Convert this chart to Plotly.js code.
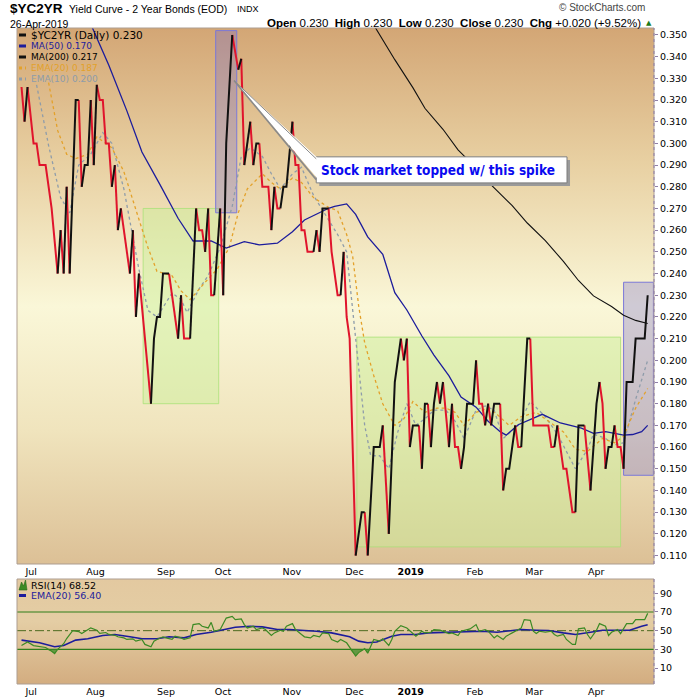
<!DOCTYPE html>
<html><head><meta charset="utf-8">
<script src="https://cdn.plot.ly/plotly-3.0.1.min.js"></script>
<style>
html,body{margin:0;padding:0;background:#fff;}
#wrap{position:relative;width:700px;height:700px;overflow:hidden;}
#bg1{position:absolute;left:17px;top:28px;width:637px;height:536px;background:linear-gradient(to bottom,#d3a675 0%,#e8d0a2 25%,#faf7d8 52%,#f0e4bd 75%,#dcc096 100%);}
#bg2{position:absolute;left:17px;top:579px;width:637px;height:105px;background:linear-gradient(to bottom,#e3c9a0 0%,#e4cda4 40%,#d3ad80 100%);}
#chart{position:absolute;left:0;top:0;width:700px;height:700px;}
</style></head>
<body><div id="wrap"><div id="bg1"></div><div id="bg2"></div><div id="chart"></div></div>
<script>
// ---------- data (x = trading-day index, 0 = late Jun 2018, 208 = 26-Apr-2019) ----------
const monthIdx = [3.2, 24.6, 48, 66.9, 89.8, 110.6, 129.3, 150.6, 170.3, 190.9];
const monthLabels = ['Jul','Aug','Sep','Oct','Nov','Dec','<b>2019</b>','Feb','Mar','Apr'];

const priceIdx = [0,1,2,4,5,6,8,9,10,12,13,14,15,16,18,19,20,21,22,23,24,25,26,27,28,29,30,31,32,33,36,37,38,39,41,43,44,45,46,47,49,52,53,54,56,58,59,60,61,62,63,64,66,67,68,70,72,73,74,76,77,78,79,80,82,83,84,85,86,87,88,90,91,92,93,94,95,97,98,99,100,102,103,105,106,107,108,109,111,113,114,115,117,119,120,122,124,126,127,128,129,130,132,133,134,135,136,137,138,139,140,142,143,144,145,146,147,148,150,151,152,153,154,155,156,157,159,160,161,162,164,165,166,168,169,170,175,176,177,178,180,181,183,184,185,187,189,191,192,193,194,195,196,197,198,199,200,201,203,204,207,208];
const priceVal = [0.326,0.310,0.326,0.300,0.300,0.290,0.290,0.280,0.270,0.240,0.260,0.240,0.280,0.240,0.320,0.320,0.280,0.290,0.290,0.320,0.290,0.327,0.320,0.320,0.300,0.300,0.280,0.290,0.260,0.270,0.240,0.260,0.220,0.240,0.210,0.180,0.210,0.220,0.220,0.240,0.240,0.210,0.230,0.210,0.210,0.270,0.260,0.260,0.250,0.270,0.230,0.230,0.270,0.230,0.300,0.350,0.334,0.339,0.290,0.310,0.290,0.300,0.300,0.280,0.280,0.260,0.280,0.270,0.270,0.280,0.280,0.310,0.290,0.290,0.260,0.260,0.250,0.250,0.260,0.250,0.270,0.270,0.250,0.230,0.230,0.250,0.220,0.210,0.110,0.130,0.130,0.110,0.160,0.160,0.170,0.120,0.190,0.210,0.200,0.210,0.160,0.170,0.170,0.150,0.180,0.180,0.160,0.180,0.190,0.180,0.190,0.160,0.180,0.160,0.160,0.150,0.160,0.180,0.180,0.200,0.180,0.180,0.170,0.180,0.170,0.180,0.180,0.140,0.150,0.150,0.170,0.160,0.160,0.210,0.210,0.170,0.170,0.160,0.160,0.170,0.150,0.150,0.130,0.130,0.170,0.170,0.140,0.180,0.190,0.180,0.150,0.160,0.160,0.170,0.160,0.160,0.150,0.190,0.190,0.210,0.210,0.230];

const ma50Idx = [23,29,35,40,46,52,57,63,68,74,79,85,90,94,102,104,108,111,115,120,124,128,133,137,142,146,151,155,159,161,165,173,179,186,190,194,200,203,206,208];
const ma50Val = [0.355,0.336,0.315,0.296,0.281,0.2655,0.255,0.255,0.2517,0.2547,0.2532,0.254,0.2593,0.2647,0.2701,0.271,0.2721,0.2673,0.2569,0.2489,0.2312,0.2232,0.2112,0.2024,0.1928,0.1831,0.1784,0.1719,0.1671,0.1655,0.1703,0.1751,0.1711,0.1687,0.1663,0.1671,0.1655,0.1658,0.1671,0.170];

const ma200Idx = [117,124,130,134,140,145,148,156,163,168,174,180,185,190,196,200,204,208];
const ma200Val = [0.3546,0.3386,0.3257,0.3162,0.3065,0.297,0.2929,0.2809,0.2713,0.2633,0.2552,0.2456,0.2368,0.2297,0.2248,0.2208,0.2184,0.217];

const ema20Idx = [9,12,15,18,22,25,30,34,39,42,45,50,53,56,61,65,69,72,75,80,83,86,90,93,97,102,105,108,110,112,114,117,120,124,127,130,134,138,141,144,147,151,155,158,162,166,171,175,180,184,188,193,197,200,204,208];
const ema20Val = [0.328,0.306,0.295,0.293,0.295,0.303,0.298,0.287,0.265,0.252,0.241,0.239,0.232,0.228,0.236,0.242,0.252,0.268,0.279,0.286,0.282,0.279,0.284,0.282,0.275,0.2705,0.269,0.258,0.248,0.225,0.208,0.193,0.180,0.170,0.173,0.181,0.176,0.178,0.178,0.176,0.170,0.176,0.178,0.175,0.170,0.174,0.176,0.172,0.167,0.159,0.158,0.164,0.162,0.165,0.178,0.187];

const ema10Idx = [5,9,13,16,19,23,27,30,34,39,42,45,50,53,55,59,62,66,70,73,76,80,83,86,90,93,97,102,105,108,111,114,116,119,122,125,128,131,134,137,141,144,147,151,154,157,160,165,169,174,178,184,188,190,194,197,200,204,208];
const ema10Val = [0.327,0.299,0.275,0.268,0.290,0.295,0.305,0.300,0.279,0.242,0.223,0.220,0.231,0.228,0.222,0.233,0.239,0.252,0.271,0.294,0.298,0.294,0.286,0.279,0.286,0.289,0.276,0.265,0.258,0.250,0.210,0.170,0.156,0.156,0.150,0.167,0.180,0.170,0.173,0.177,0.177,0.172,0.164,0.177,0.179,0.177,0.164,0.170,0.181,0.174,0.166,0.150,0.159,0.166,0.164,0.161,0.162,0.182,0.200];

const rsiIdx = [0,1,2,4,6,8,10,11,12,14,15,16,17,19,20,22,23,25,26,28,29,31,32,34,35,37,38,40,41,43,44,45,47,48,50,51,53,54,56,57,59,60,62,63,64,66,67,68,70,71,73,74,75,77,78,80,81,83,84,86,87,88,90,91,93,94,96,97,99,100,102,103,105,106,108,109,111,112,114,115,116,117,119,120,122,123,124,125,126,128,130,131,133,134,136,137,139,140,142,143,145,146,148,149,151,152,154,155,157,158,160,161,163,164,166,167,169,170,171,172,174,176,177,178,180,181,183,184,185,187,188,189,191,192,194,195,196,198,199,201,203,204,207,208];
const rsiVal = [34,36,38,34,33,32,28,25.5,30,36,41.6,46,50,49,47,51,53,50.5,47,48,46,45,43.5,42.3,40.6,41.3,38.8,40.6,35.3,32.8,38.8,40.6,43.4,42.3,40.6,44,42.3,40.6,42.3,56.5,57.5,54.7,52.9,58.9,49.4,51.2,58.2,63.5,65.3,61.8,62.5,56.5,52.9,54.7,51.2,52.9,51.2,44.8,47.6,50.5,49.4,54.7,57.5,51.2,45.9,43.4,42.3,44.8,43.4,47.6,46.9,40.6,37.8,40.6,37,31.8,22.9,26.5,30.7,25.8,32.8,40.6,38.8,41.3,34.2,40.6,49.4,52.9,55.4,52.9,46.9,44.1,49.4,47.6,48.3,51.2,50.5,49.4,46.9,47.6,44.8,49.4,51.2,51.9,56.5,49.4,51.2,49.4,42.3,44.8,40.6,44.1,47.6,49.4,52.9,61.8,61.1,49.4,46.9,49.4,48.3,49.4,45.9,44.1,45.9,40.6,35.3,35.3,51.9,52.9,45.9,41.3,50.5,57.5,54.7,44.8,48.3,51.2,46.9,57.5,57.5,61.8,61.8,68.5];

const rsiEmaIdx = [0,2,6,11,14,18,22,27,31,36,40,45,49,54,58,63,67,71,76,80,85,89,94,98,103,106,109,112,115,118,120,123,126,131,135,140,144,149,153,158,162,166,171,175,180,184,189,193,198,202,206,208];
const rsiEmaVal = [39.9,38.8,37,32.8,34.2,39.9,41.3,44.8,45.9,43.4,41.3,41.3,43.4,42.3,45.9,48.3,51.2,53.6,54.7,54,51.2,51.2,50.1,49.4,47.6,45.9,43.4,38.8,37,37.8,40.6,44.1,45.9,45.9,47.6,48.3,48.3,49.4,49.4,48.3,49.4,51.2,50.5,50.1,47.6,45.9,48.3,50.5,50.5,50.5,54.7,56.4];

const rsiLevels = [70, 50, 30];
const priceTicks = [0.110,0.120,0.130,0.140,0.150,0.160,0.170,0.180,0.190,0.200,0.210,0.220,0.230,0.240,0.250,0.260,0.270,0.280,0.290,0.300,0.310,0.320,0.330,0.340,0.350];
const rsiTicks = [10,30,50,70,90];

// ---------- helpers ----------
const PX = x => (x - 17) / 637;       // pixel -> paper x
const PY = y => (684 - y) / 656;      // pixel -> paper y
const RED = '#e0142c', BLK = '#111111', NAVY = '#1c1c9c', ORG = '#e3a12a', GRY = '#8e9caa', GRN = '#3b8a24';
const FONT = 'DejaVu Sans, Verdana, sans-serif';
const SANS = 'Liberation Sans, Arial, sans-serif';

function splitUpDown(idx, val){
  const up = {x:[], y:[]}, dn = {x:[], y:[]};
  let last = null, dir = 'up';
  for (let k = 0; k < idx.length - 1; k++){
    const d = val[k+1] - val[k];
    dir = d > 0 ? 'up' : (d < 0 ? 'dn' : dir);
    const t = dir === 'up' ? up : dn;
    if (last !== dir){
      if (t.x.length){ t.x.push(null); t.y.push(null); }
      t.x.push(idx[k]); t.y.push(val[k]);
    }
    t.x.push(idx[k+1]); t.y.push(val[k+1]);
    last = dir;
  }
  return [up, dn];
}
const [upSeg, dnSeg] = splitUpDown(priceIdx, priceVal);
const rsiFloor = rsiVal.map(() => rsiLevels[2]);
const rsiBelow = rsiVal.map(v => Math.min(v, rsiLevels[2]));

const traces = [
  {x: ema10Idx, y: ema10Val, mode:'lines', line:{color:GRY, width:1.3, dash:'dot'}, xaxis:'x', yaxis:'y', hoverinfo:'skip'},
  {x: ema20Idx, y: ema20Val, mode:'lines', line:{color:ORG, width:1.3, dash:'dot'}, xaxis:'x', yaxis:'y', hoverinfo:'skip'},
  {x: ma200Idx, y: ma200Val, mode:'lines', line:{color:BLK, width:1.1}, xaxis:'x', yaxis:'y', hoverinfo:'skip'},
  {x: ma50Idx, y: ma50Val, mode:'lines', line:{color:NAVY, width:1.3}, xaxis:'x', yaxis:'y', hoverinfo:'skip'},
  {x: dnSeg.x, y: dnSeg.y, mode:'lines', line:{color:RED, width:2}, xaxis:'x', yaxis:'y', connectgaps:false, hoverinfo:'skip'},
  {x: upSeg.x, y: upSeg.y, mode:'lines', line:{color:BLK, width:2}, xaxis:'x', yaxis:'y', connectgaps:false, hoverinfo:'skip'},
  // RSI panel
  {x: rsiIdx, y: rsiFloor, mode:'lines', line:{width:0, color:'rgba(0,0,0,0)'}, xaxis:'x2', yaxis:'y2', hoverinfo:'skip'},
  {x: rsiIdx, y: rsiBelow, mode:'lines', line:{width:0, color:'rgba(0,0,0,0)'}, fill:'tonexty', fillcolor:'rgba(60,140,40,0.75)', xaxis:'x2', yaxis:'y2', hoverinfo:'skip'},
  {x: rsiEmaIdx, y: rsiEmaVal, mode:'lines', line:{color:NAVY, width:1.6}, xaxis:'x2', yaxis:'y2', hoverinfo:'skip'},
  {x: rsiIdx, y: rsiVal, mode:'lines', line:{color:GRN, width:1.2}, xaxis:'x2', yaxis:'y2', hoverinfo:'skip'}
];

const shapes = [
  // highlight boxes
  {type:'rect', xref:'x', yref:'y', x0:40.4, x1:65.5, y0:0.180, y1:0.270, fillcolor:'rgba(200,240,150,0.45)', line:{color:'rgba(170,225,120,0.8)', width:1}, layer:'below'},
  {type:'rect', xref:'x', yref:'y', x0:111.4, x1:199, y0:0.114, y1:0.2107, fillcolor:'rgba(200,240,150,0.45)', line:{color:'rgba(170,225,120,0.8)', width:1}, layer:'below'},
  {type:'rect', xref:'x', yref:'y', x0:64.5, x1:71.5, y0:0.268, y1:0.352, fillcolor:'rgba(110,100,205,0.30)', line:{color:'#7b78d8', width:1}, layer:'below'},
  {type:'rect', xref:'x', yref:'y', x0:200, x1:209.9, y0:0.147, y1:0.236, fillcolor:'rgba(110,100,205,0.30)', line:{color:'#7b78d8', width:1}, layer:'below'},
  // panel borders
  {type:'rect', xref:'paper', yref:'paper', x0:0, x1:1, y0:PY(564), y1:1, line:{color:'#ad9d90', width:1}},
  {type:'rect', xref:'paper', yref:'paper', x0:0, x1:1, y0:0, y1:PY(579), line:{color:'#ad9d90', width:1}},
  {type:'line', xref:'paper', yref:'paper', x0:1, x1:1, y0:PY(564), y1:1, line:{color:'#8f7fa8', width:1, dash:'dot'}},
  {type:'line', xref:'paper', yref:'paper', x0:1, x1:1, y0:0, y1:PY(579), line:{color:'#8f7fa8', width:1, dash:'dot'}},
  // callout
  {type:'rect', xref:'x', yref:'y', x0:98.9, x1:182.2, y0:0.2804, y1:0.2924, fillcolor:'#9a9a9a', line:{width:0}},
  {type:'rect', xref:'x', yref:'y', x0:97.9, x1:181.2, y0:0.2818, y1:0.2938, fillcolor:'#ffffff', line:{color:'#7d7d7d', width:1}},
  {type:'path', xref:'x', yref:'y', path:'M 70.6 0.329 L 98.6 0.2929 L 98.6 0.2833 Z', fillcolor:'#ffffff', line:{width:0}},
  {type:'line', xref:'x', yref:'y', x0:70.6, y0:0.329, x1:97.9, y1:0.2929, line:{color:'#8a8a8a', width:1}},
  {type:'line', xref:'x', yref:'y', x0:70.6, y0:0.329, x1:97.9, y1:0.2833, line:{color:'#8a8a8a', width:1.6}},
  // legend icons (price panel)
  {type:'line', xref:'paper', yref:'paper', x0:PX(19), x1:PX(26), y0:PY(35), y1:PY(35), line:{color:BLK, width:3}},
  {type:'line', xref:'paper', yref:'paper', x0:PX(19), x1:PX(26), y0:PY(46), y1:PY(46), line:{color:NAVY, width:3}},
  {type:'line', xref:'paper', yref:'paper', x0:PX(19), x1:PX(26), y0:PY(57), y1:PY(57), line:{color:BLK, width:3}},
  {type:'line', xref:'paper', yref:'paper', x0:PX(19), x1:PX(26), y0:PY(68), y1:PY(68), line:{color:ORG, width:3, dash:'dot'}},
  {type:'line', xref:'paper', yref:'paper', x0:PX(19), x1:PX(26), y0:PY(79), y1:PY(79), line:{color:GRY, width:3, dash:'dot'}},
  // legend icons (RSI panel)
  {type:'path', xref:'paper', yref:'paper', path:`M ${PX(19)} ${PY(590)} L ${PX(21.5)} ${PY(582)} L ${PX(23.5)} ${PY(586)} L ${PX(25.5)} ${PY(580)} L ${PX(27)} ${PY(590)} Z`, fillcolor:GRN, line:{color:'#2a6a18', width:0.6}},
  {type:'line', xref:'paper', yref:'paper', x0:PX(19), x1:PX(26), y0:PY(595.5), y1:PY(595.5), line:{color:NAVY, width:3}}
];
rsiLevels.forEach((lv, k) => {
  shapes.push({type:'line', xref:'x2 domain', yref:'y2', x0:0, x1:1, y0:lv, y1:lv,
    line:{color: k === 1 ? '#4d6a1f' : '#2f7e1b', width: k === 1 ? 1 : 1.2, dash: k === 1 ? 'dashdot' : 'solid'}, layer:'below'});
});

const ann = (x, y, text, size, color, anchor, family) => ({
  xref:'paper', yref:'paper', x:PX(x), y:PY(y), text:text, showarrow:false,
  xanchor:anchor || 'left', yanchor:'middle', font:{family:family || FONT, size:size, color:color || '#000'}
});

const annotations = [
  ann(8, 9, '<b>$YC2YR</b>', 13.5, '#000', 'left', SANS),
  ann(67, 9.5, 'Yield Curve - 2 Year Bonds (EOD)', 10.5, '#000', 'left', SANS),
  ann(235, 9.5, 'INDX', 9, '#000', 'left', SANS),
  ann(8, 23.5, '26-Apr-2019', 10.5, '#000', 'left', SANS),
  ann(647, 8, '© StockCharts.com', 10, '#444', 'right', SANS),
  ann(643, 23, '<b>Open</b> 0.230  <b>High</b> 0.230  <b>Low</b> 0.230  <b>Close</b> 0.230  <b>Chg</b> +0.020 (+9.52%)', 11.5, '#000', 'right', SANS),
  ann(644, 23, '▲', 7, '#1a7a1a', 'left', 'DejaVu Sans, sans-serif'),
  // price legend
  ann(29, 35, '$YC2YR (Daily) 0.230', 10.5, '#000'),
  ann(29, 46, 'MA(50) 0.170', 9, NAVY),
  ann(29, 57, 'MA(200) 0.217', 9, '#000'),
  ann(29, 68, 'EMA(20) 0.187', 9, ORG),
  ann(29, 79, 'EMA(10) 0.200', 9, GRY),
  // rsi legend
  ann(29, 585, 'RSI(14) 68.52', 9.5, '#000'),
  ann(29, 595.5, 'EMA(20) 56.40', 9.5, NAVY),
  // callout text
  {xref:'x', yref:'y', x:98.8, y:0.2878, text:'<b>Stock market topped w/ this spike</b>', showarrow:false, xanchor:'left', yanchor:'middle',
   font:{family:'DejaVu Sans Condensed, Liberation Sans, sans-serif', size:13.5, color:'#0a0af0'}}
];

const xCommon = {range:[-1.5, 210.1], tickmode:'array', tickvals:monthIdx, ticktext:monthLabels, showgrid:false, zeroline:false,
  ticks:'', showline:false, tickfont:{family:FONT, size:9.5, color:'#000'}, fixedrange:true};

const layout = {
  width:700, height:700, margin:{l:17, r:46, t:28, b:16},
  paper_bgcolor:'rgba(0,0,0,0)', plot_bgcolor:'rgba(0,0,0,0)', showlegend:false,
  xaxis: Object.assign({}, xCommon, {anchor:'y', domain:[0,1]}),
  xaxis2: Object.assign({}, xCommon, {anchor:'y2', domain:[0,1]}),
  yaxis: {domain:[PY(564), 1], range:[0.1061, 0.3532], side:'right', tickmode:'array', tickvals:priceTicks,
    ticktext: priceTicks.map(v => v.toFixed(3)), showgrid:false, zeroline:false, ticks:'outside', ticklen:3, tickcolor:'#8f7fa8',
    tickfont:{family:FONT, size:9.5, color:'#000'}, anchor:'x', fixedrange:true},
  yaxis2: {domain:[0, PY(579)], range:[-7.1, 105.3], side:'right', tickmode:'array', tickvals:rsiTicks, showgrid:false, zeroline:false,
    ticks:'outside', ticklen:3, tickcolor:'#8f7fa8', tickfont:{family:FONT, size:9.5, color:'#000'}, anchor:'x2', fixedrange:true},
  shapes: shapes, annotations: annotations
};

Plotly.newPlot('chart', traces, layout, {staticPlot:true, displayModeBar:false});
</script>
</body></html>
